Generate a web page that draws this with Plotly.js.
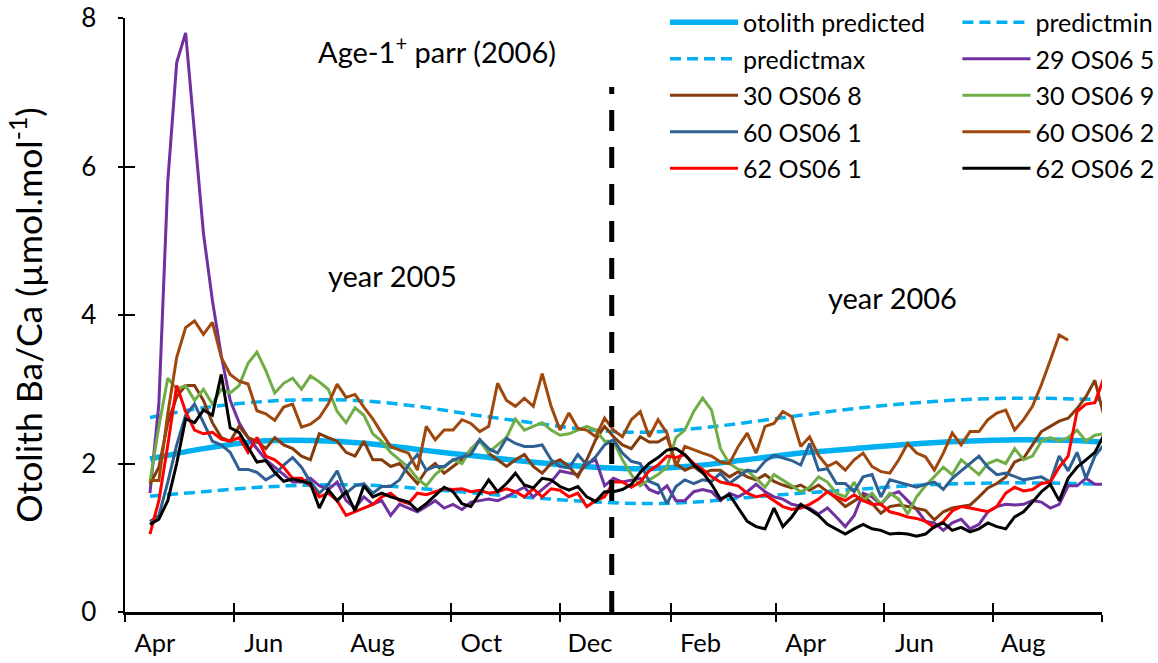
<!DOCTYPE html>
<html>
<head>
<meta charset="utf-8">
<script src="https://cdn.plot.ly/plotly-3.0.1.min.js"></script>
<style>html,body{margin:0;padding:0;background:#fff;}#chart{width:1158px;height:663px;}</style>
</head>
<body>
<div id="chart"></div>
<script>
// ---- sampling grid for the measured otolith profiles (every 5 days from 15 Apr 2005) ----
const sampleStart = '2005-04-15';
const sampleStepDays = 5;

// ---- axis ticks ----
const tickDates = ['2005-04-01','2005-06-01','2005-08-01','2005-10-01','2005-12-01','2006-02-01','2006-04-01','2006-06-01','2006-08-01','2006-10-01'];
const tickLabels = ['Apr','Jun','Aug','Oct','Dec','Feb','Apr','Jun','Aug',''];
const yTicks = [0,2,4,6,8];
const yearBoundary = '2005-12-30';

// ---- predicted curves ----
const predDates = ['2005-04-15','2005-05-15','2005-06-15','2005-07-15','2005-08-15','2005-09-15','2005-10-15','2005-11-15','2005-12-15','2006-01-15','2006-02-15','2006-03-15','2006-04-15','2006-05-15','2006-06-15','2006-07-15','2006-08-15','2006-09-15','2006-09-30'];
const otolithPredicted = [2.06,2.2,2.3,2.31,2.27,2.18,2.1,2.02,1.96,1.93,1.97,2.05,2.14,2.2,2.26,2.3,2.32,2.31,2.29];
const predictMax = [2.62,2.75,2.83,2.86,2.84,2.76,2.65,2.55,2.46,2.42,2.47,2.55,2.65,2.74,2.81,2.86,2.88,2.87,2.86];
const predictMin = [1.56,1.62,1.68,1.71,1.71,1.66,1.6,1.54,1.49,1.46,1.48,1.54,1.6,1.65,1.7,1.73,1.74,1.73,1.72];

// ---- measured profiles ----
const s29_OS06_5 = [1.6,2.8,5.8,7.4,7.8,6.5,5.1,4.2,3.45,2.85,
 2.55,2.35,2.2,2.05,1.95,1.85,1.75,1.75,1.8,1.7,
 1.65,1.75,1.5,1.4,1.55,1.45,1.5,1.3,1.45,1.4,
 1.35,1.42,1.5,1.4,1.45,1.38,1.48,1.5,1.52,1.5,
 1.55,1.62,1.68,1.55,1.65,1.75,1.9,1.88,1.85,2.0,
 2.05,1.7,1.8,1.75,1.78,1.8,1.65,1.6,1.7,1.5,
 1.5,1.62,1.65,1.62,1.5,1.6,1.55,1.62,1.72,1.62,
 1.55,1.52,1.45,1.42,1.4,1.32,1.4,1.28,1.15,1.3,
 1.6,1.55,1.45,1.58,1.62,1.5,1.38,1.22,1.2,1.1,
 1.2,1.25,1.12,1.18,1.35,1.42,1.45,1.44,1.45,1.5,
 1.48,1.4,1.45,1.7,1.7,1.8,1.72,1.72];
const s30_OS06_8 = [1.72,1.95,2.55,2.9,3.05,3.05,2.85,2.55,2.35,2.3,
 2.5,2.35,2.3,2.2,2.35,2.25,2.2,2.1,2.05,2.4,
 2.35,2.3,2.15,2.1,2.3,2.05,2.05,1.96,2.0,1.87,
 1.73,1.91,2.0,1.87,1.96,2.05,2.18,2.32,2.14,2.05,
 1.96,2.05,2.12,1.96,1.87,2.0,2.05,1.96,1.82,2.05,
 2.32,2.5,2.36,2.25,2.2,2.36,2.29,2.29,2.36,2.0,
 1.91,1.96,1.87,1.91,1.91,1.82,1.89,1.82,1.78,1.85,
 1.76,1.71,1.67,1.71,1.64,1.71,1.62,1.53,1.42,1.49,
 1.57,1.46,1.33,1.42,1.44,1.42,1.4,1.37,1.24,1.35,
 1.4,1.42,1.44,1.55,1.67,1.73,1.82,2.02,2.07,2.25,
 2.43,2.5,2.57,2.61,2.74,2.9,3.12,2.65];
const s30_OS06_9 = [1.75,2.5,3.15,3.0,3.05,2.85,3.0,2.8,3.0,2.95,
 3.05,3.35,3.5,3.25,2.95,3.08,3.15,3.0,3.18,3.1,
 3.0,2.7,2.55,2.75,2.65,2.4,2.3,2.15,2.05,1.95,
 1.8,1.7,1.85,1.95,2.05,2.0,2.2,2.3,2.15,2.25,
 2.35,2.6,2.45,2.5,2.55,2.45,2.38,2.4,2.45,2.5,
 2.45,2.3,2.3,2.05,1.85,1.7,1.78,1.85,1.95,2.35,
 2.45,2.7,2.88,2.72,2.2,2.0,1.92,1.9,1.8,1.68,
 1.85,1.78,1.7,1.62,1.68,1.82,1.75,1.6,1.55,1.75,
 1.5,1.6,1.45,1.6,1.52,1.32,1.55,1.7,1.82,1.95,
 1.85,2.05,1.95,1.85,2.0,2.05,2.0,2.2,2.05,2.1,
 2.3,2.35,2.3,2.35,2.45,2.3,2.38,2.4];
const s60_OS06_1 = [1.22,1.3,1.75,2.25,2.65,2.8,2.55,2.3,2.25,2.15,
 1.92,1.92,1.88,1.78,1.85,1.98,2.08,1.95,1.75,1.6,
 1.72,1.9,1.6,1.7,1.73,1.6,1.69,1.69,1.78,1.98,
 2.12,1.91,1.96,1.96,2.05,2.09,2.12,2.32,2.2,2.14,
 2.34,2.27,2.23,2.23,2.25,2.05,1.96,1.94,2.12,1.98,
 2.09,2.25,2.32,2.14,2.03,2.0,1.76,1.71,1.46,1.69,
 1.78,1.73,1.78,1.76,1.87,1.73,1.82,1.91,1.89,2.03,
 2.11,2.07,2.04,1.98,2.27,1.91,1.93,1.73,1.73,1.62,
 1.82,1.85,1.55,1.78,1.75,1.72,1.68,1.72,1.75,1.65,
 1.8,1.9,2.0,2.1,1.95,1.85,1.87,1.82,1.78,1.8,
 1.82,1.75,2.1,1.9,2.15,1.8,2.1,2.25];
const s60_OS06_2 = [1.77,1.77,2.67,3.43,3.83,3.92,3.74,3.9,3.43,3.2,
 3.11,3.07,2.71,2.67,2.58,2.76,2.8,2.49,2.53,2.62,
 2.8,3.07,2.89,2.93,2.76,2.6,2.41,2.23,2.18,2.14,
 1.91,2.5,2.32,2.45,2.45,2.59,2.54,2.43,2.5,3.08,
 2.85,2.77,2.88,2.77,3.21,2.77,2.45,2.68,2.47,2.45,
 2.36,2.61,2.45,2.36,2.59,2.7,2.36,2.59,2.41,1.96,
 2.23,2.18,2.14,2.1,2.02,2.0,2.23,2.41,2.14,2.5,
 2.54,2.7,2.63,2.23,2.36,2.11,1.96,2.02,1.91,2.05,
 2.14,1.96,1.89,1.87,2.05,2.27,2.14,2.09,1.91,2.14,
 2.41,2.25,2.43,2.43,2.59,2.68,2.72,2.45,2.59,2.77,
 3.06,3.39,3.73,3.66,null,null,null,null];
const s62_OS06_1 = [1.05,1.5,2.25,3.05,2.7,2.45,2.4,2.42,2.33,2.3,
 2.35,2.15,2.35,2.1,2.05,1.95,1.8,1.8,1.7,1.55,
 1.6,1.5,1.3,1.35,1.4,1.45,1.55,1.6,1.5,1.46,
 1.6,1.58,1.62,1.66,1.65,1.66,1.62,1.64,1.6,1.62,
 1.66,1.62,1.55,1.66,1.55,1.66,1.64,1.55,1.6,1.42,
 1.5,1.55,1.75,1.75,1.68,1.75,1.9,1.98,2.1,2.08,
 2.12,2.0,1.92,1.82,1.75,1.72,1.7,1.6,1.55,1.58,
 1.5,1.42,1.38,1.4,1.45,1.52,1.62,1.55,1.5,1.58,
 1.5,1.45,1.45,1.35,1.32,1.28,1.26,1.22,1.14,1.22,
 1.36,1.42,1.4,1.38,1.35,1.42,1.6,1.68,1.63,1.65,
 1.73,1.75,1.95,2.1,2.7,2.8,2.82,3.15];
const s62_OS06_2 = [1.18,1.25,1.5,2.0,2.6,2.55,2.72,2.65,3.2,2.48,
 2.42,2.22,2.02,2.04,1.88,1.76,1.79,1.76,1.73,1.4,
 1.65,1.5,1.62,1.36,1.7,1.55,1.6,1.55,1.51,1.48,
 1.37,1.46,1.57,1.68,1.62,1.46,1.42,1.6,1.78,1.62,
 1.73,1.87,1.71,1.67,1.8,1.78,1.69,1.64,1.69,1.55,
 1.49,1.62,1.62,1.65,1.72,1.88,2.0,2.08,2.18,2.2,
 2.12,1.98,1.88,1.72,1.52,1.58,1.4,1.22,1.15,1.12,
 1.4,1.15,1.28,1.45,1.38,1.3,1.18,1.12,1.05,1.12,
 1.18,1.12,1.1,1.05,1.06,1.05,1.02,1.05,1.15,1.2,
 1.1,1.14,1.08,1.12,1.2,1.15,1.12,1.28,1.35,1.48,
 1.62,1.72,1.5,1.8,1.95,2.05,2.15,2.38];

// ---- build the sampling dates (index grid) ----
function sampleDates(n){
  const t0 = Date.parse(sampleStart + 'T00:00:00Z');
  const out = [];
  for(let i=0;i<n;i++){
    out.push(new Date(t0 + i*sampleStepDays*86400000).toISOString().slice(0,10));
  }
  return out;
}
const sDates = sampleDates(s29_OS06_5.length);

const FONT = 'Lato, "Open Sans", "DejaVu Sans", sans-serif';
const cBlue = '#00B0F0';

function noisy(name, y, color, legend){
  return {type:'scatter', mode:'lines', name:name, x:sDates, y:y,
    line:{color:color, width:3}, legend:legend, legendgroup:name, hoverinfo:'skip', connectgaps:false};
}

const traces = [
  {type:'scatter', mode:'lines', name:'otolith predicted', x:predDates, y:otolithPredicted,
   line:{color:cBlue, width:5.5, shape:'spline'}, legend:'legend', legendgroup:'a'},
  {type:'scatter', mode:'lines', name:'predictmin', x:predDates, y:predictMin,
   line:{color:cBlue, width:3.5, dash:'11px,6px', shape:'spline'}, legend:'legend2', legendgroup:'b'},
  {type:'scatter', mode:'lines', name:'predictmax', x:predDates, y:predictMax,
   line:{color:cBlue, width:3.5, dash:'11px,6px', shape:'spline'}, legend:'legend', legendgroup:'c'},
  noisy('29 OS06 5', s29_OS06_5, '#7030A0', 'legend2'),
  noisy('30 OS06 8', s30_OS06_8, '#843C0C', 'legend'),
  noisy('30 OS06 9', s30_OS06_9, '#70AD47', 'legend2'),
  noisy('60 OS06 1', s60_OS06_1, '#2F6093', 'legend'),
  noisy('60 OS06 2', s60_OS06_2, '#9E480E', 'legend2'),
  noisy('62 OS06 1', s62_OS06_1, '#FF0000', 'legend'),
  noisy('62 OS06 2', s62_OS06_2, '#000000', 'legend2'),
  {type:'scatter', mode:'markers', x:[tickDates[0]], y:[0], xaxis:'x2', yaxis:'y2',
   marker:{opacity:0}, showlegend:false, hoverinfo:'skip'}
];

const xRange = [tickDates[0], tickDates[tickDates.length-1]];
const legendCommon = {xanchor:'left', yanchor:'top', bgcolor:'rgba(0,0,0,0)',
  font:{family:FONT, size:25, color:'#000'}, tracegroupgap:1, itemwidth:68, orientation:'v'};

const layout = {
  width:1158, height:663,
  margin:{l:125, r:56, t:18, b:51, autoexpand:false},
  paper_bgcolor:'#fff', plot_bgcolor:'#fff',
  font:{family:FONT, color:'#000'},
  xaxis:{type:'date', range:xRange, tickvals:tickDates, ticktext:tickLabels,
    ticks:'outside', ticklen:7, tickwidth:2, tickcolor:'#000',
    ticklabelshift:30, tickfont:{family:FONT, size:25.5, color:'#000'},
    showline:true, linewidth:2.5, linecolor:'#000', showgrid:false, zeroline:false, fixedrange:true},
  xaxis2:{type:'date', range:xRange, tickvals:tickDates, overlaying:'x', side:'bottom',
    ticks:'inside', ticklen:9, tickwidth:2, tickcolor:'#000', showticklabels:false,
    showline:false, showgrid:false, zeroline:false},
  yaxis:{range:[0,8], tickvals:yTicks, ticks:'outside', ticklen:5, tickwidth:2, tickcolor:'#000',
    tickfont:{family:FONT, size:26, color:'#000'}, ticklabelstandoff:16,
    showline:true, linewidth:2.5, linecolor:'#000', showgrid:false, zeroline:false,
    title:{text:'Otolith Ba/Ca (µmol.mol<sup>-1</sup>)', font:{family:FONT, size:35.5, color:'#000'}, standoff:28}},
  yaxis2:{range:[0,8], tickvals:yTicks, overlaying:'y', side:'left',
    ticks:'inside', ticklen:10, tickwidth:2, tickcolor:'#000', showticklabels:false,
    showline:false, showgrid:false, zeroline:false},
  legend:Object.assign({x:0.5527, y:1.031}, legendCommon),
  legend2:Object.assign({x:0.852, y:1.031}, legendCommon),
  shapes:[{type:'line', xref:'x', yref:'y', x0:yearBoundary, x1:yearBoundary, y0:0, y1:7.07,
    line:{color:'#000', width:5, dash:'21px,16px'}}],
  annotations:[
    {xref:'paper', yref:'paper', x:0.3193, y:0.946, xanchor:'center', yanchor:'middle',
     text:'Age-1<sup>+</sup> parr (2006)', showarrow:false, font:{family:FONT, size:29, color:'#000'}},
    {xref:'paper', yref:'paper', x:0.2733, y:0.5657, xanchor:'center', yanchor:'middle',
     text:'year 2005', showarrow:false, font:{family:FONT, size:29, color:'#000'}},
    {xref:'paper', yref:'paper', x:0.786, y:0.5303, xanchor:'center', yanchor:'middle',
     text:'year 2006', showarrow:false, font:{family:FONT, size:29, color:'#000'}}
  ],
  showlegend:true
};

Plotly.newPlot('chart', traces, layout, {staticPlot:true, displayModeBar:false});
</script>
</body>
</html>
